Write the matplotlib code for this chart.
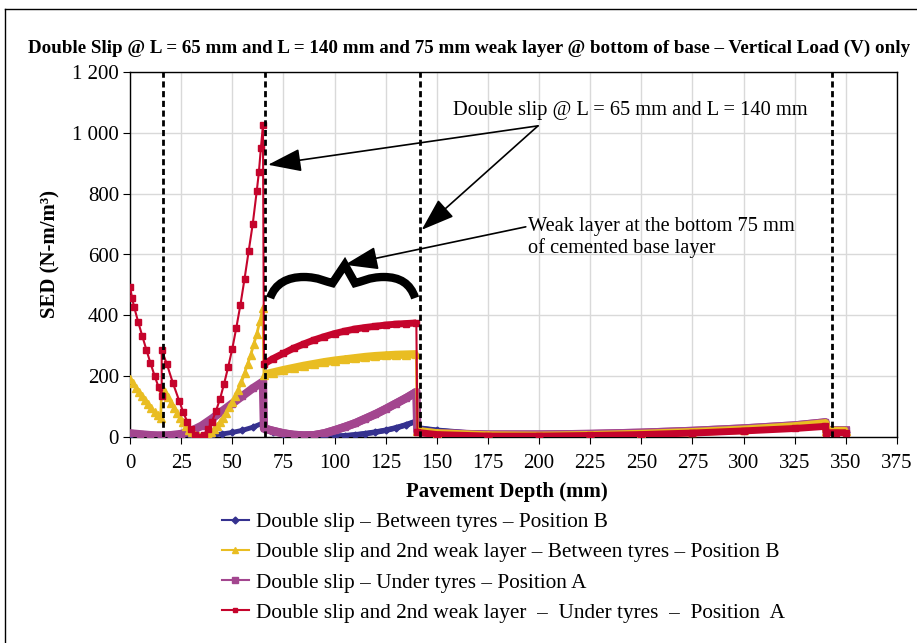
import numpy as np
import matplotlib
matplotlib.use('Agg')
import matplotlib.pyplot as plt
from matplotlib.lines import Line2D
from matplotlib.path import Path
from matplotlib.patches import PathPatch
from matplotlib.ticker import FuncFormatter

plt.rcParams['font.family'] = ['Liberation Serif', 'DejaVu Serif']

# depth (mm) and SED (N-m/m3)
depth_b = [0, 5, 10, 15, 20, 25, 30, 35, 40, 45, 50, 55, 60, 65,
           65.5, 70, 75, 80, 85, 90, 95, 100, 105, 110, 115, 120, 125, 130, 135, 140,
           140.5, 150, 175, 200, 225, 250, 275, 300, 325, 340, 340.5, 345, 350]
sed_b = [5, 3, 2, 1, 1, 1, 2, 3, 6, 10, 15, 22, 32, 46,
         25, 18, 10, 5, 2, 1, 1, 2, 4, 7, 11, 16, 22, 30, 40, 52,
         30, 22, 8, 5, 7, 10, 15, 22, 32, 40, 18, 18, 18]

depth_y = [0, 1.5, 3, 4.5, 6, 7.5, 9, 10.5, 12, 13.5, 15, 15.5, 17, 18.5, 20, 21.5, 23, 24.5,
           26, 27.5, 29, 30.5, 32, 33.5, 35, 36.5, 38, 39.5, 41, 42.5, 44, 45.5, 47, 48.5, 50,
           51.5, 53, 54.5, 56, 57.5, 59, 60.5, 62, 63.5, 65,
           65.5, 70, 75, 80, 85, 90, 95, 100, 105, 110, 115, 120, 125, 130, 135, 140,
           140.5, 150, 175, 200, 225, 250, 275, 300, 325, 340, 340.5, 345, 350]
sed_y = [190, 176, 162, 148, 135, 121, 108, 95, 83, 72, 62, 165, 148, 130, 112, 95, 78, 62,
         48, 35, 24, 15, 8, 3, 0, 3, 8, 16, 25, 37, 50, 64, 80, 97, 115,
         135, 155, 180, 210, 240, 270, 305, 340, 380, 425,
         205, 212, 220, 227, 234, 240, 246, 251, 255, 259, 263, 266, 268, 270, 271, 272,
         20, 12, 5, 4, 6, 10, 16, 24, 35, 45, 20, 20, 20]

depth_p = [0, 5, 10, 15, 20, 25, 30, 35, 40, 45, 50, 55, 60, 65,
           65.5, 70, 75, 80, 85, 90, 95, 100, 105, 110, 115, 120, 125, 130, 135, 140,
           140.5, 150, 175, 200, 225, 250, 275, 300, 325, 340, 340.5, 345, 350]
sed_p = [12, 9, 6, 5, 6, 10, 20, 37, 60, 85, 110, 135, 160, 182,
         28, 20, 12, 7, 5, 6, 12, 22, 33, 45, 60, 75, 92, 110, 128, 148,
         18, 12, 8, 8, 10, 14, 20, 28, 38, 48, 22, 22, 22]

depth_r = [0, 1, 2, 4, 6, 8, 10, 12, 14, 15.5, 15.5, 18, 21, 24, 26, 28, 30, 32, 34,
           36, 38, 40, 42, 44, 46, 48, 50, 52, 54, 56, 58, 60, 62, 63, 64, 65,
           65.5, 70, 75, 80, 85, 90, 95, 100, 105, 110, 115, 120, 125, 130, 135, 140,
           140.5, 150, 175, 200, 225, 250, 275, 300, 325, 340, 340.5, 345, 350]
sed_r = [494, 458, 428, 378, 332, 287, 243, 202, 163, 135, 286, 240, 177, 120, 82, 50, 25, 8, 1,
         8, 25, 50, 85, 125, 175, 230, 290, 360, 435, 520, 610, 700, 810, 870, 950, 1025,
         240, 258, 275, 292, 306, 319, 330, 340, 348, 355, 360, 364, 368, 371, 373, 375,
         15, 8, 3, 3, 5, 8, 13, 20, 28, 35, 14, 14, 14]

slip_lines = [16, 66, 142, 343]

labels = ['Double slip \u2013 Between tyres \u2013 Position B',
          'Double slip and 2nd weak layer \u2013 Between tyres \u2013 Position B',
          'Double slip \u2013 Under tyres \u2013 Position A',
          'Double slip and 2nd weak layer  \u2013  Under tyres  \u2013  Position  A']

c_blue = '#35318f'
c_yell = '#e9bd22'
c_purp = '#a3468f'
c_red = '#c5042c'

fig = plt.figure(figsize=(9.17, 6.43), dpi=100)
ax = fig.add_axes([130/917, 1-437/643, 767/917, 365/643])


def draw(x, y, color, marker, ms, lw, band_lw, z):
    x = np.array(x)
    y = np.array(y)
    ax.plot(x, y, color=color, lw=lw, marker=marker, ms=ms, mec=color, zorder=z)
    # thick bands where the original markers sit shoulder to shoulder
    for lo, hi in [(65.5, 140), (140.5, 350)]:
        m = (x >= lo) & (x <= hi)
        ax.plot(x[m], y[m], color=color, lw=band_lw, solid_capstyle='butt', zorder=z)


draw(depth_b, sed_b, c_blue, 'D', 3.5, 3.5, 4, 3)
draw(depth_p, sed_p, c_purp, 's', 5, 6, 6, 4)
draw(depth_y, sed_y, c_yell, '^', 5.5, 2, 6, 5)
draw(depth_r, sed_r, c_red, 's', 4, 1.5, 5, 6)

for xv in slip_lines:
    ax.axvline(xv, color='k', lw=2, ls=(0, (2.2, 1.3)), zorder=7)

ax.set_xlim(0, 375)
ax.set_ylim(0, 1200)
ax.set_xticks(np.arange(0, 376, 25))
ax.set_yticks(np.arange(0, 1201, 200))
ax.yaxis.set_major_formatter(FuncFormatter(lambda v, p: f'{int(v):,}'.replace(',', ' ')))
ax.tick_params(labelsize=15, direction='out', length=5, colors='k')
ax.tick_params(axis='x', pad=7)
ax.tick_params(axis='y', pad=3)
ax.grid(True, color='#d9d9d9', lw=1)
ax.set_axisbelow(True)
for s in ax.spines.values():
    s.set_color('k')
    s.set_linewidth(1)

ax.set_xlabel('Pavement Depth (mm)', fontsize=15, fontweight='bold')
ax.xaxis.set_label_coords(0.491, -0.123)
ax.set_ylabel('SED (N-m/m\u00b3)', fontsize=15, fontweight='bold')
ax.yaxis.set_label_coords(-0.091, 0.5)

fig.text(469/917, 1-48/643,
         'Double Slip @ L = 65 mm and L = 140 mm and 75 mm weak layer @ bottom of base \u2013 Vertical Load (V) only',
         ha='center', va='center', fontsize=13.7, fontweight='bold')

# annotations
ax.text(244.5, 1075, 'Double slip @ L = 65 mm and L = 140 mm', ha='center', va='center', fontsize=14.7, zorder=9)
ax.text(194.5, 655, 'Weak layer at the bottom 75 mm\nof cemented base layer', ha='left', va='center',
        fontsize=14.7, linespacing=1.15, zorder=9)
aprops = dict(arrowstyle='-|>,head_length=1.3,head_width=0.45', color='k', lw=1.2,
              mutation_scale=16, shrinkA=0, shrinkB=0)
ax.annotate('', xy=(67.5, 895), xytext=(199.5, 1023), arrowprops=aprops, zorder=9)
ax.annotate('', xy=(142.6, 681), xytext=(199.5, 1023), arrowprops=aprops, zorder=9)
ax.annotate('', xy=(105, 566), xytext=(193.5, 691), arrowprops=aprops, zorder=9)

brace = Path([(68.5, 457), (71, 505), (77, 526), (85, 526),
              (92, 526), (96, 510), (99, 506),
              (105, 566), (110, 506),
              (113, 510), (117, 526), (124, 526),
              (132, 526), (137, 505), (139.4, 457)],
             [Path.MOVETO, Path.CURVE4, Path.CURVE4, Path.CURVE4,
              Path.CURVE4, Path.CURVE4, Path.CURVE4,
              Path.LINETO, Path.LINETO,
              Path.CURVE4, Path.CURVE4, Path.CURVE4,
              Path.CURVE4, Path.CURVE4, Path.CURVE4])
ax.add_patch(PathPatch(brace, fill=False, lw=6, ec='k', zorder=9))

handles = [Line2D([], [], color=c_blue, marker='D', ms=3.5, lw=1.5),
           Line2D([], [], color=c_yell, marker='^', ms=5, lw=1.5),
           Line2D([], [], color=c_purp, marker='s', ms=4.5, lw=1.5),
           Line2D([], [], color=c_red, marker='s', ms=3, lw=1.5)]
fig.legend(handles, labels, loc='upper left', bbox_to_anchor=(213/917, 1-504/643),
           frameon=False, fontsize=15.3, handlelength=1.3, handletextpad=0.3,
           labelspacing=0.48, borderaxespad=0)

# outer frame (left and top edges)
fig.add_artist(Line2D([5/917, 5/917], [0, 1-9/643], transform=fig.transFigure, color='k', lw=1))
fig.add_artist(Line2D([5/917, 1], [1-9/643, 1-9/643], transform=fig.transFigure, color='k', lw=1))

fig.savefig('out.png', dpi=100)
